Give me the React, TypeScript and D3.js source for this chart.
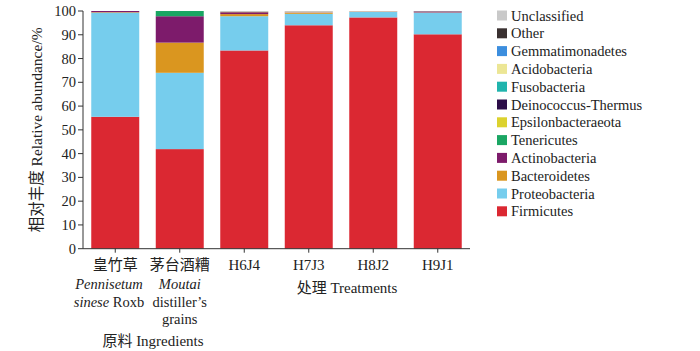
import React from "react";
import * as d3 from "d3";

const categories = ["皇竹草", "茅台酒糟", "H6J4", "H7J3", "H8J2", "H9J1"];
const phyla = [
  "Firmicutes",
  "Proteobacteria",
  "Bacteroidetes",
  "Actinobacteria",
  "Tenericutes",
  "Epsilonbacteraeota",
  "Deinococcus-Thermus",
  "Fusobacteria",
  "Acidobacteria",
  "Gemmatimonadetes",
  "Other",
  "Unclassified",
];
const colors = [
  "#db2832",
  "#76cded",
  "#da961f",
  "#7d1b6b",
  "#1aa663",
  "#dcd22e",
  "#2c0d48",
  "#20b4ad",
  "#ece695",
  "#3c8ede",
  "#3a3131",
  "#c9c9c9",
];
// values per phylum (same order as phyla), per category
const firmicutes = [55.5, 41.9, 83.4, 94.0, 97.3, 90.2];
const proteobacteria = [43.8, 32.1, 14.4, 4.8, 2.3, 9.1];
const bacteroidetes = [0.2, 12.7, 0.9, 0.4, 0.1, 0.1];
const actinobacteria = [0.5, 11.1, 0.8, 0.2, 0.1, 0.4];
const tenericutes = [0.0, 2.2, 0.0, 0.0, 0.0, 0.0];
const epsilonbacteraeota = [0.0, 0.0, 0.1, 0.0, 0.0, 0.0];
const deinococcus = [0.0, 0.0, 0.0, 0.0, 0.0, 0.0];
const fusobacteria = [0.0, 0.0, 0.0, 0.0, 0.0, 0.0];
const acidobacteria = [0.0, 0.0, 0.1, 0.3, 0.1, 0.0];
const gemmatimonadetes = [0.0, 0.0, 0.0, 0.0, 0.0, 0.0];
const other = [0.0, 0.0, 0.1, 0.1, 0.0, 0.1];
const unclassified = [0.0, 0.0, 0.2, 0.2, 0.1, 0.1];
const yTicks = [0, 10, 20, 30, 40, 50, 60, 70, 80, 90, 100];

const series = [
  firmicutes,
  proteobacteria,
  bacteroidetes,
  actinobacteria,
  tenericutes,
  epsilonbacteraeota,
  deinococcus,
  fusobacteria,
  acidobacteria,
  gemmatimonadetes,
  other,
  unclassified,
];

const FONT = "'Liberation Serif', 'Times New Roman', 'Noto Sans CJK SC', serif";

export default function App() {
  const width = 700;
  const height = 351;
  const x0 = 83;
  const x1 = 470;
  const yBase = 248.7;
  const yTop = 11;

  const x = d3.scaleBand<string>().domain(categories).range([x0, x1]).paddingInner(0.256).paddingOuter(0.128);
  const y = d3.scaleLinear().domain([0, 100]).range([yBase, yTop]);

  const rows = categories.map((c, i) => {
    const r: Record<string, any> = { cat: c };
    phyla.forEach((p, j) => (r[p] = series[j][i]));
    return r;
  });
  const stacked = d3.stack<any>().keys(phyla)(rows);

  const legendOrder = [...phyla].reverse();
  const cx = (c: string) => x(c)! + x.bandwidth() / 2;

  return (
    <svg
      width={width}
      height={height}
      style={{ position: "absolute", left: 0, top: 0, fontFamily: FONT }}
    >
      <rect width={width} height={height} fill="#fff" />
      {stacked.map((layer, j) => (
        <g key={layer.key} fill={colors[j]}>
          {layer.map((d, i) => {
            const h = y(d[0]) - y(d[1]);
            if (h <= 0) return null;
            return (
              <rect
                key={i}
                x={x(categories[i])}
                y={y(d[1])}
                width={x.bandwidth()}
                height={h}
              />
            );
          })}
        </g>
      ))}
      {/* y axis */}
      <line x1={x0} x2={x0} y1={yTop} y2={yBase} stroke="#333" strokeWidth={1} />
      {yTicks.map((t) => (
        <g key={t}>
          <line x1={x0 - 5} x2={x0} y1={y(t)} y2={y(t)} stroke="#333" />
          <text x={x0 - 7} y={y(t)} dy="0.35em" textAnchor="end" fontSize={14.5} fill="#222">
            {t}
          </text>
        </g>
      ))}
      {/* x axis */}
      <line x1={x0} x2={x1} y1={yBase} y2={yBase} stroke="#333" />
      {categories.map((c) => (
        <g key={c}>
          <line x1={cx(c)} x2={cx(c)} y1={yBase} y2={yBase + 4} stroke="#333" />
          <text x={cx(c)} y={yBase + 21} textAnchor="middle" fontSize={15} fill="#222">
            {c}
          </text>
        </g>
      ))}
      {/* sub labels */}
      <g fontSize={14.5} fill="#222" textAnchor="middle">
        <text x={109} y={289} fontStyle="italic">
          Pennisetum
        </text>
        <text x={109} y={307}>
          <tspan fontStyle="italic">sinese</tspan> Roxb
        </text>
        <text x={cx(categories[1])} y={289} fontStyle="italic">
          Moutai
        </text>
        <text x={cx(categories[1])} y={307}>
          distiller’s
        </text>
        <text x={cx(categories[1])} y={324}>
          grains
        </text>
      </g>
      <g fontSize={15} fill="#222" textAnchor="middle">
        <text x={153} y={346}>原料 Ingredients</text>
        <text x={347} y={293}>处理 Treatments</text>
      </g>
      {/* y title */}
      <text
        transform={`translate(42, ${(yTop + yBase) / 2}) rotate(-90)`}
        textAnchor="middle"
        fontSize={15.5}
        fill="#222"
      >
        相对丰度 Relative abundance/%
      </text>
      {/* legend */}
      {legendOrder.map((p, k) => {
        const j = phyla.indexOf(p);
        const cy = 15.5 + k * 17.8;
        return (
          <g key={p}>
            <rect x={497} y={cy - 5} width={10} height={10} fill={colors[j]} />
            <text x={511} y={cy} dy="0.35em" fontSize={14.5} fill="#222">
              {p}
            </text>
          </g>
        );
      })}
    </svg>
  );
}
